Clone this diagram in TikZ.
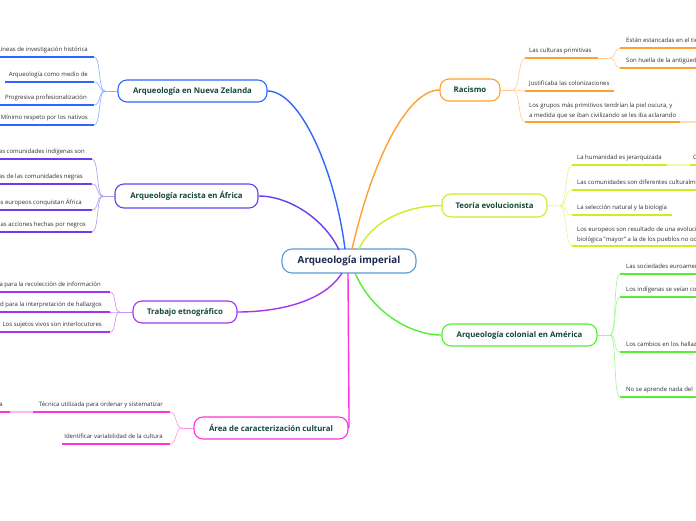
\documentclass[tikz,border=0pt]{standalone}
\usepackage{fontspec}
\setmainfont{Open Sans}
\definecolor{cNZ}{HTML}{2F66FF}
\definecolor{cAF}{HTML}{6A3DF0}
\definecolor{cTE}{HTML}{A633F0}
\definecolor{cAR}{HTML}{FF33DD}
\definecolor{cRA}{HTML}{FFA030}
\definecolor{cTV}{HTML}{CCEE22}
\definecolor{cCO}{HTML}{55EE33}
\definecolor{cCE}{HTML}{5B9BD5}
\definecolor{labelc}{HTML}{13473A}
\definecolor{centc}{HTML}{1B2A4E}
\definecolor{leafc}{HTML}{2E2E2E}
\tikzset{
  branchbox/.style={draw=#1, line width=1.1pt, rounded corners=9pt, fill=white,
    font=\fontsize{7.8}{9}\selectfont\bfseries, text=labelc, inner sep=0pt},
  leaftxt/.style={inner sep=0pt, text depth=0pt, text=leafc, font=\fontsize{6}{10}\selectfont},
  leafL/.style={leaftxt, anchor=south east},
  leafR/.style={leaftxt, anchor=south west, align=left},
  uline/.style={draw=#1, line width=1.7pt},
  ghost/.style={draw=#1!35, line width=1.7pt},
  subc/.style={draw=#1!55, line width=0.6pt},
  mainc/.style={draw=#1, line width=1.4pt},
}
\begin{document}
\begin{tikzpicture}[x=1pt,y=-1pt]
\useasboundingbox (0,0) rectangle (696,520);
\clip (0,0) rectangle (696,520);

% ---------- nodes ----------
\node[draw=cCE, line width=1.1pt, rounded corners=10pt, fill=white, minimum width=134pt, minimum height=24pt,
  font=\fontsize{9.8}{11}\selectfont\bfseries, text=centc, inner sep=0pt] (center) at (349,261) {Arqueología imperial};
\node[branchbox=cNZ, minimum width=149pt, minimum height=22pt] (nz) at (192.5,91) {Arqueología en Nueva Zelanda};
\node[branchbox=cAF, minimum width=143pt, minimum height=24pt] (af) at (186.5,196) {Arqueología racista en África};
\node[branchbox=cTE, minimum width=104pt, minimum height=22pt] (te) at (185,312) {Trabajo etnográfico};
\node[branchbox=cAR, minimum width=154pt, minimum height=22pt] (ar) at (271,428) {Área de caracterización cultural};
\node[branchbox=cRA, minimum width=60pt, minimum height=22pt] (ra) at (470,90) {Racismo};
\node[branchbox=cTV, minimum width=105pt, minimum height=23pt] (tv) at (494.5,205.5) {Teoría evolucionista};
\node[branchbox=cCO, minimum width=155pt, minimum height=22pt] (co) at (519.5,335) {Arqueología colonial en América};

% ---------- main connectors ----------
\coordinate (cNZs) at (345,249);
\coordinate (cAFs) at (339,250);
\coordinate (cRAs) at (352,249);
\coordinate (cTVs) at (359,249);
\coordinate (cTEs) at (342,273);
\coordinate (cARs) at (348,273);
\coordinate (cCOs) at (355,273);
\draw[mainc=cNZ] (cNZs) .. controls (335,170) and (300,91) .. (nz.east);
\draw[mainc=cAF] (cAFs) .. controls (325,220) and (290,196) .. (af.east);
\draw[mainc=cRA] (cRAs) .. controls (375,150) and (410,90) .. (ra.west);
\draw[mainc=cTV] (cTVs) .. controls (370,225) and (400,206) .. (tv.west);
\draw[mainc=cTE] (cTEs) .. controls (322,305) and (270,312) .. (te.east);
\draw[mainc=cAR] (cARs) -- (349,416) .. controls (349,426) and (349,428) .. (ar.east);
\draw[mainc=cCO] (cCOs) .. controls (372,312) and (410,335) .. (co.west);

% ---------- Nueva Zelanda ----------
\coordinate (nzj) at (105,91);
\draw[subc=cNZ] (nz.west) -- (nzj);
\foreach \n/\y/\xs in {1/57/-2, 2/82/5, 3/105/-2, 4/125/-2}{
  \coordinate (nz\n s) at (\xs,\y); \coordinate (nz\n e) at (94,\y);
  \draw[uline=cNZ] (nz\n s) -- (nz\n e);
  \draw[subc=cNZ] (nzj) .. controls +(-7,0) and +(7,0) .. (nz\n e);
}
\node[leafL] (nzt1) at (88,52) {Líneas de investigación histórica};
\node[leafL] (nzt2) at (88,77) {Arqueología como medio de};
\node[leafL] (nzt3) at (87,100) {Progresiva profesionalización};
\node[leafL] (nzt4) at (88,120) {Mínimo respeto por los nativos};

% ---------- África ----------
\coordinate (afj) at (103,196);
\draw[subc=cAF] (af.west) -- (afj);
\foreach \n/\y in {1/159, 2/184, 3/210, 4/232}{
  \coordinate (af\n s) at (-2,\y); \coordinate (af\n e) at (92,\y);
  \draw[uline=cAF] (af\n s) -- (af\n e);
  \draw[subc=cAF] (afj) .. controls +(-7,0) and +(7,0) .. (af\n e);
}
\node[leafL] (aft1) at (85,154) {Las comunidades indígenas son};
\node[leafL] (aft2) at (83,179) {as de las comunidades negras};
\node[leafL] (aft3) at (82,205) {Los europeos conquistan África};
\node[leafL] (aft4) at (86,227) {Las acciones hechas por negros};

% ---------- Trabajo etnográfico ----------
\coordinate (tej) at (120,312);
\draw[subc=cTE] (te.west) -- (tej);
\foreach \n/\y in {1/292, 2/312, 3/332}{
  \coordinate (te\n s) at (-2,\y); \coordinate (te\n e) at (110,\y);
  \draw[uline=cTE] (te\n s) -- (te\n e);
  \draw[subc=cTE] (tej) .. controls +(-7,0) and +(7,0) .. (te\n e);
}
\node[leafL] (tet1) at (101,287) {a para la recolección de información};
\node[leafL] (tet2) at (102,307) {d para la interpretación de hallazgos};
\node[leafL] (tet3) at (102,327) {Los sujetos vivos son interlocutores};

% ---------- Área de caracterización cultural ----------
\coordinate (arj) at (182,428);
\draw[subc=cAR] (ar.west) -- (arj);
\coordinate (ar1s) at (33,412); \coordinate (ar1e) at (170,412);
\coordinate (ar2s) at (62,444); \coordinate (ar2e) at (170,444);
\draw[uline=cAR] (ar1s) -- (ar1e);
\draw[uline=cAR] (ar2s) -- (ar2e);
\draw[subc=cAR] (arj) .. controls +(-7,0) and +(7,0) .. (ar1e);
\draw[subc=cAR] (arj) .. controls +(-7,0) and +(7,0) .. (ar2e);
\node[leafL] (art1) at (163,407) {Técnica utilizada para ordenar y sistematizar};
\node[leafL] (art2) at (163,439) {Identificar variabilidad de la cultura};
\coordinate (ar3s) at (-2,412); \coordinate (ar3e) at (10,412);
\draw[uline=cAR] (ar3s) -- (ar3e);
\draw[ghost=cAR] (ar3e) -- (ar1s);
\node[leafL] (art3) at (3,407) {a};

% ---------- Racismo ----------
\coordinate (raj) at (513,90);
\draw[subc=cRA] (ra.east) -- (raj);
\coordinate (ra1s) at (525,58);  \coordinate (ra1e) at (598,58);
\coordinate (ra2s) at (525,91);  \coordinate (ra2e) at (614,91);
\coordinate (ra3s) at (525,122); \coordinate (ra3e) at (680,122);
\foreach \n in {1,2,3}{
  \draw[uline=cRA] (ra\n s) -- (ra\n e);
  \draw[subc=cRA] (raj) .. controls +(7,0) and +(-7,0) .. (ra\n s);
}
\coordinate (ra3x) at (698,122);
\draw[ghost=cRA] (ra3e) -- (ra3x);
\node[leafR] (rat1) at (529,53) {Las culturas primitivas};
\node[leafR] (rat2) at (529,86) {Justificaba las colonizaciones};
\node[leafR] (rat3) at (529,118) {Los grupos más primitivos tendrían la piel oscura, y\\a medida que se iban civilizando se les iba aclarando};
\coordinate (ra1j) at (610,58);
\draw[subc=cRA] (ra1e) -- (ra1j);
\coordinate (ra4s) at (620,48); \coordinate (ra4e) at (698,48);
\coordinate (ra5s) at (620,68); \coordinate (ra5e) at (698,68);
\draw[uline=cRA] (ra4s) -- (ra4e);
\draw[uline=cRA] (ra5s) -- (ra5e);
\draw[subc=cRA] (ra1j) .. controls +(6,0) and +(-6,0) .. (ra4s);
\draw[subc=cRA] (ra1j) .. controls +(6,0) and +(-6,0) .. (ra5s);
\node[leafR] (rat4) at (626,43) {Están estancadas en el tiempo};
\node[leafR] (rat5) at (626,63) {Son huella de la antigüedad};

% ---------- Teoría evolucionista ----------
\coordinate (tvj) at (560,206);
\draw[subc=cTV] (tv.east) -- (tvj);
\coordinate (tv1s) at (572,165); \coordinate (tv1e) at (667,165);
\coordinate (tv2s) at (572,190); \coordinate (tv2e) at (698,190);
\coordinate (tv3s) at (572,215); \coordinate (tv3e) at (672,215);
\coordinate (tv4s) at (572,246); \coordinate (tv4e) at (698,246);
\foreach \n in {1,2,3,4}{
  \draw[uline=cTV] (tv\n s) -- (tv\n e);
  \draw[subc=cTV] (tvj) .. controls +(7,0) and +(-7,0) .. (tv\n s);
}
\node[leafR] (tvt1) at (577,160) {La humanidad es jerarquizada};
\node[leafR] (tvt2) at (577,185) {Las comunidades son diferentes culturalmente};
\node[leafR] (tvt3) at (577,210) {La selección natural y la biología};
\node[leafR] (tvt4) at (577,242) {Los europeos son resultado de una evolución\\biológica "mayor" a la de los pueblos no occidentales};
\coordinate (tv5s) at (690,165); \coordinate (tv5e) at (698,165);
\draw[ghost=cTV] (tv1e) -- (tv5s);
\draw[uline=cTV] (tv5s) -- (tv5e);
\node[leafR] (tvt5) at (693,160) {C};

% ---------- Arqueología colonial en América ----------
\coordinate (coj) at (610,335);
\draw[subc=cCO] (co.east) -- (coj);
\foreach \n/\y in {1/274, 2/297, 3/352, 4/397}{
  \coordinate (co\n s) at (620,\y); \coordinate (co\n e) at (698,\y);
  \draw[uline=cCO] (co\n s) -- (co\n e);
  \draw[subc=cCO] (coj) .. controls +(7,0) and +(-7,0) .. (co\n s);
}
\node[leafR] (cot1) at (626,269) {Las sociedades euroamericanas};
\node[leafR] (cot2) at (626,292) {Los indígenas se veían como};
\node[leafR] (cot3) at (626,347) {Los cambios en los hallazgos};
\node[leafR] (cot4) at (626,392) {No se aprende nada del};
\end{tikzpicture}
\end{document}
